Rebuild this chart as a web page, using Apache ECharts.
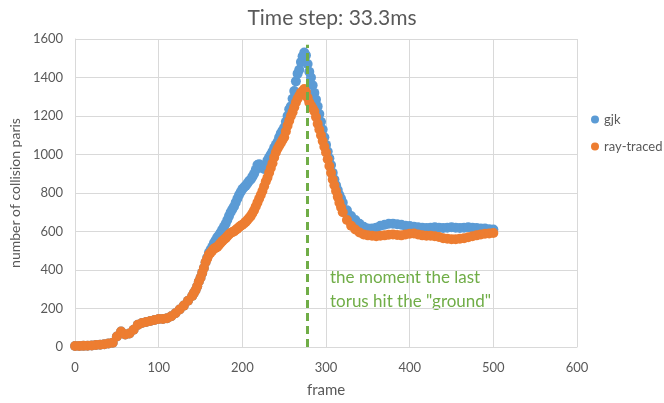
<!DOCTYPE html>
<html style="height:100%;width:100%;">

<head>
  <meta charset="utf-8">
  <title>Time step: 33.3ms</title>
  <script src="https://cdn.jsdelivr.net/npm/echarts@6/dist/echarts.min.js"></script>
</head>

<body style="margin:0px;height:100%;width:100%;">
  <div id="main" style="width:664px;height:403px"></div>
  <script type="text/javascript" charset="utf-8">
    // frames: every 5, every 2 on the steep part
    var frames = [0, 5, 10, 15, 20, 25, 30, 35, 40, 45, 50, 55, 60, 65, 70, 75, 80, 85, 90, 95,
      100, 105, 110, 115, 120, 125, 130, 135,
      140, 142, 144, 146, 148, 150, 152, 154, 156, 158, 160, 162, 164, 166, 168, 170, 172, 174, 176, 178,
      180, 182, 184, 186, 188, 190, 192, 194, 196, 198, 200, 202, 204, 206, 208, 210, 212, 214, 216, 218,
      220, 222, 224, 226, 228, 230, 232, 234, 236, 238, 240, 242, 244, 246, 248, 250, 252, 254, 256, 258,
      260, 262, 264, 266, 268, 270, 272, 274, 276, 278, 280, 282, 284, 286, 288, 290, 292, 294, 296, 298,
      300, 302, 304, 306, 308, 310, 312, 314, 316, 318, 320,
      325, 330, 335, 340, 345, 350, 355, 360, 365, 370, 375, 380, 385, 390, 395,
      400, 405, 410, 415, 420, 425, 430, 435, 440, 445, 450, 455, 460, 465, 470, 475, 480, 485, 490, 495, 500];
    var gjk = [5, 5, 6, 7, 8, 10, 12, 14, 18, 22, 55, 80, 65, 70, 90, 115, 125, 130, 135, 140,
      145, 145, 150, 160, 175, 195, 215, 240,
      265, 280, 295, 315, 340, 360, 385, 410, 440, 465, 490, 505, 520, 540, 555, 570, 580, 595, 610, 625,
      640, 660, 680, 700, 715, 730, 750, 770, 790, 805, 820, 830, 838, 850, 862, 870, 885, 900, 920, 945,
      950, 940, 930, 925, 945, 970, 985, 1000, 1015, 1035, 1050, 1065, 1090, 1110, 1125, 1140, 1170, 1200, 1235, 1250,
      1290, 1330, 1380, 1420, 1440, 1480, 1510, 1530, 1515, 1470, 1430, 1400, 1360, 1320, 1285, 1250, 1210, 1170, 1130, 1090,
      1050, 1015, 980, 945, 905, 870, 840, 815, 790, 770, 750,
      710, 680, 660, 640, 625, 615, 615, 620, 630, 635, 640, 640, 638, 635, 630,
      628, 625, 622, 620, 618, 620, 622, 620, 618, 620, 622, 620, 618, 620, 622, 620, 618, 615, 615, 612, 610];
    var rayTraced = [5, 5, 6, 7, 8, 10, 12, 14, 18, 22, 55, 80, 65, 70, 90, 115, 125, 130, 135, 140,
      145, 145, 150, 160, 175, 195, 215, 240,
      265, 280, 295, 315, 340, 360, 385, 410, 440, 460, 480, 490, 500, 510, 515, 520, 530, 540, 550, 558,
      565, 575, 585, 592, 597, 600, 608, 615, 622, 630, 635, 642, 650, 660, 670, 680, 695, 710, 730, 750,
      770, 790, 810, 835, 860, 880, 905, 930, 955, 985, 1010, 1030, 1045, 1060, 1075, 1090, 1120, 1150, 1175, 1200,
      1220, 1245, 1270, 1290, 1305, 1320, 1330, 1340, 1325, 1295, 1270, 1255, 1240, 1225, 1195, 1160, 1130, 1100, 1070, 1040,
      1010, 975, 940, 905, 870, 840, 810, 780, 750, 725, 700,
      660, 630, 610, 595, 585, 580, 578, 575, 578, 580, 583, 585, 582, 580, 585,
      588, 590, 585, 580, 578, 578, 575, 572, 565, 562, 560, 560, 562, 565, 570, 575, 580, 585, 588, 590, 592];
    var momentFrame = 277;
    var momentTop = 1570;

    function pairs(vals) {
      return frames.map(function (f, i) { return [f, vals[i]]; });
    }

    var myChart = echarts.init(document.getElementById("main"));
    var gray = '#595959';
    var font = 'Lato';

    option = {
      backgroundColor: '#fff',
      animation: false,
      title: {
        text: 'Time step: 33.3ms',
        left: 'center',
        top: 3,
        textStyle: { fontSize: 21, fontWeight: 'normal', color: gray, fontFamily: font }
      },
      legend: {
        orient: 'vertical',
        left: 586,
        top: 108,
        itemWidth: 8,
        itemHeight: 8,
        itemGap: 14,
        icon: 'circle',
        textStyle: { fontSize: 13, color: gray, fontFamily: font },
        data: ['gjk', 'ray-traced']
      },
      grid: { left: 73, right: 87, top: 39, bottom: 54 },
      xAxis: {
        type: 'value',
        min: 0, max: 600, interval: 100,
        name: 'frame',
        nameLocation: 'middle',
        nameGap: 36,
        nameTextStyle: { fontSize: 15, color: gray, fontFamily: font },
        axisLine: { lineStyle: { color: '#d9d9d9' } },
        axisTick: { show: false },
        axisLabel: { fontSize: 13, color: gray, fontFamily: font, margin: 14 },
        splitLine: { lineStyle: { color: '#d9d9d9' } }
      },
      yAxis: {
        type: 'value',
        min: 0, max: 1600, interval: 200,
        name: 'number of collision paris',
        nameLocation: 'middle',
        nameGap: 47,
        nameTextStyle: { fontSize: 14, color: gray, fontFamily: font },
        axisLine: { show: true, lineStyle: { color: '#d9d9d9' } },
        axisTick: { show: false },
        axisLabel: {
          fontSize: 13, color: gray, fontFamily: font, margin: 12,
          formatter: function (v) { return String(v); }
        },
        splitLine: { lineStyle: { color: '#d9d9d9' } }
      },
      graphic: [{
        type: 'text',
        left: 330,
        top: 266,
        style: {
          text: 'the moment the last\ntorus hit the "ground"',
          fill: '#70ad47',
          font: '17px Lato',
          lineHeight: 24
        }
      }],
      series: [{
        name: 'gjk',
        type: 'scatter',
        symbolSize: 10,
        itemStyle: { color: '#5b9bd5', opacity: 1 },
        data: pairs(gjk)
      }, {
        name: 'ray-traced',
        type: 'scatter',
        symbolSize: 10,
        itemStyle: { color: '#ed7d31', opacity: 1 },
        data: pairs(rayTraced),
        markLine: {
          silent: true,
          symbol: 'none',
          label: { show: false },
          lineStyle: { color: '#70ad47', type: [8, 5], width: 3 },
          data: [[{ coord: [momentFrame, 0] }, { coord: [momentFrame, momentTop] }]]
        }
      }]
    };

    myChart.setOption(option, true);
  </script>
</body>

</html>
